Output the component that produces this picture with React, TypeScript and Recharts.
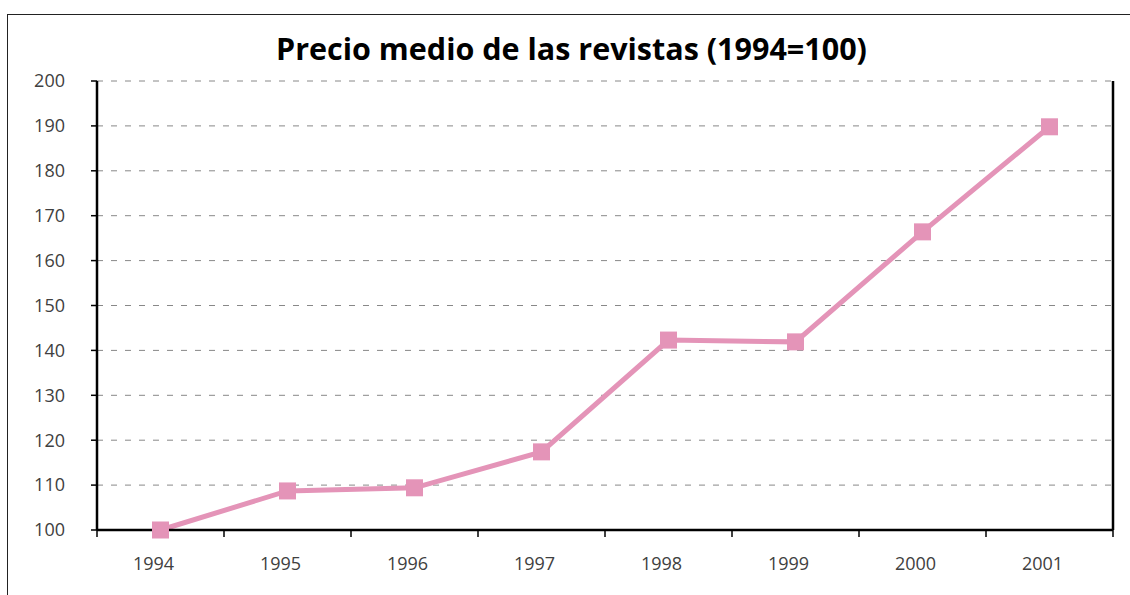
import { LineChart, Line, XAxis, YAxis, CartesianGrid } from 'recharts';

const years = ['1994', '1995', '1996', '1997', '1998', '1999', '2000', '2001'];
const priceIndex = [100, 108.7, 109.4, 117.4, 142.3, 141.9, 166.4, 189.8];
const yTicks = [100, 110, 120, 130, 140, 150, 160, 170, 180, 190, 200];

const data = years.map((year, i) => ({ year, value: priceIndex[i] }));

const WIDTH = 1130;
const HEIGHT = 595;
const PLOT_LEFT = 97;
const PLOT_RIGHT = 1113;
const BAND = (PLOT_RIGHT - PLOT_LEFT) / years.length;
const PINK = '#e494b8';
const FONT = '"Open Sans", "DejaVu Sans", sans-serif';

function YearTick(props: any) {
  const { x, y, payload, index } = props;
  const last = index === years.length - 1;
  return (
    <g>
      <line x1={x - BAND / 2} y1={y} x2={x - BAND / 2} y2={y + 7} stroke="#000" strokeWidth={1.5} />
      {last && <line x1={x + BAND / 2} y1={y} x2={x + BAND / 2} y2={y + 7} stroke="#000" strokeWidth={1.5} />}
      <text x={x - 7} y={y + 40} textAnchor="middle" fill="#404040" fontSize={18} fontFamily={FONT}>
        {payload.value}
      </text>
    </g>
  );
}

function SquareDot(props: any) {
  const { cx, cy } = props;
  if (cx == null || cy == null) return null;
  return <rect x={cx - 8.5} y={cy - 8.5} width={17} height={17} fill={PINK} />;
}

export default function App() {
  return (
    <div style={{ position: 'absolute', left: 0, top: 0, width: WIDTH, height: HEIGHT, overflow: 'hidden', background: '#fff' }}>
      <div style={{ position: 'absolute', left: 7, top: 14, width: 1200, height: 700, border: '1.5px solid #222' }} />
      <div
        style={{
          position: 'absolute', left: 0, top: 27, width: 1143, textAlign: 'center', lineHeight: 'normal',
          fontFamily: FONT, fontWeight: 700, fontSize: 30.5, color: '#000',
        }}
      >
        Precio medio de las revistas (1994=100)
      </div>
      <div style={{ position: 'absolute', left: 0, top: 0 }}>
        <LineChart width={WIDTH} height={HEIGHT} data={data} margin={{ top: 81, right: WIDTH - PLOT_RIGHT - 1, bottom: 25, left: 37 }}>
          <CartesianGrid yAxisId="left" horizontal vertical={false} stroke="#888" strokeDasharray="6 8" />
          <XAxis
            dataKey="year"
            scale="band"
            height={40}
            tickSize={0}
            tickMargin={0}
            tickLine={false}
            axisLine={{ stroke: '#000', strokeWidth: 2.5 }}
            tick={<YearTick />}
            interval={0}
          />
          <YAxis
            yAxisId="left"
            width={60}
            domain={[100, 200]}
            ticks={yTicks}
            interval={0}
            tickSize={6}
            tickMargin={26}
            tickLine={{ stroke: '#000', strokeWidth: 1.5 }}
            axisLine={{ stroke: '#000', strokeWidth: 2.5 }}
            tick={{ fill: '#404040', fontSize: 18, fontFamily: FONT }}
          />
          <YAxis
            yAxisId="right"
            orientation="right"
            width={1}
            domain={[100, 200]}
            tick={false}
            tickLine={false}
            axisLine={{ stroke: '#000', strokeWidth: 2.5 }}
          />
          <Line
            yAxisId="left"
            dataKey="value"
            stroke={PINK}
            strokeWidth={5}
            dot={<SquareDot />}
            activeDot={false}
            isAnimationActive={false}
          />
        </LineChart>
      </div>
    </div>
  );
}
